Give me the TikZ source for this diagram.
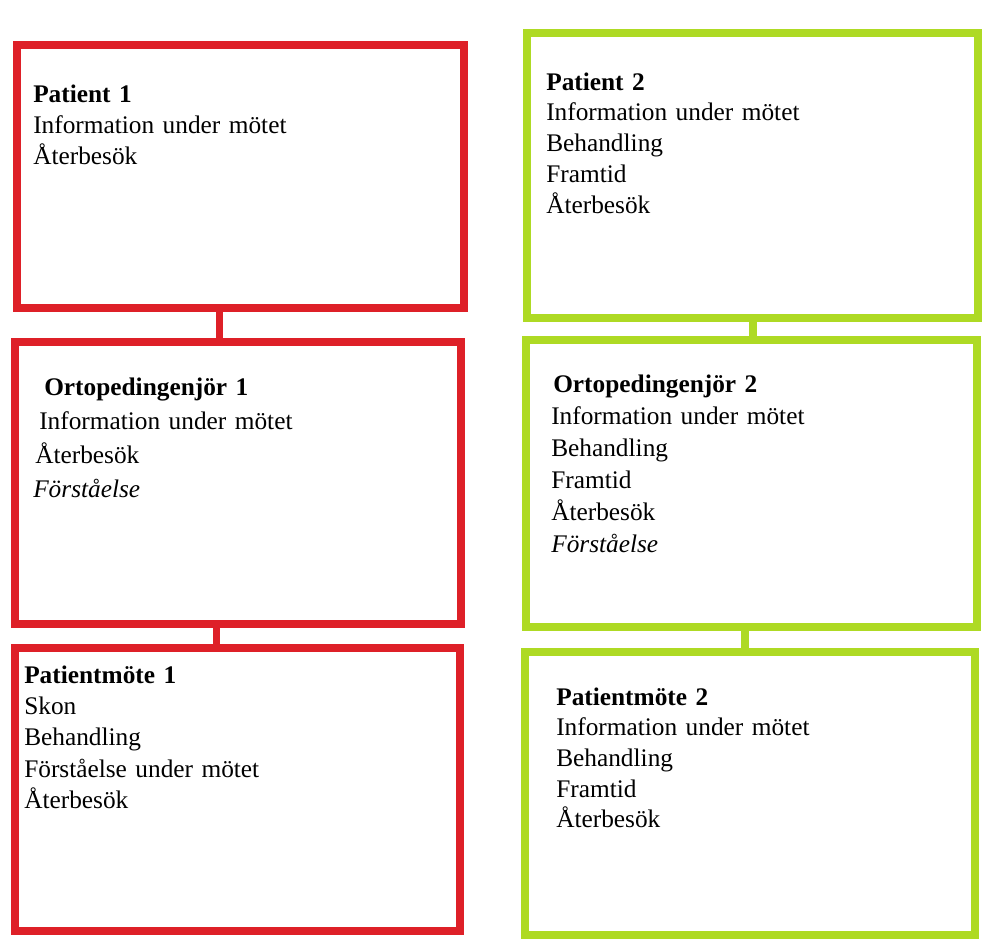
\documentclass[tikz,border=0pt]{standalone}
\usepackage{fontspec}
\setmainfont{Liberation Serif}
\usepackage{xcolor}
\usepackage{tikz}
\usetikzlibrary{positioning,calc}
\definecolor{pred}{HTML}{DE2028}
\definecolor{pgreen}{HTML}{AEDA24}
\tikzset{
  rbox/.style  ={draw=pred, line width=6pt, rectangle, inner sep=0pt},
  gbox/.style  ={draw=pgreen, line width=6pt, rectangle, inner sep=0pt},
  rlink/.style ={draw=pred, line width=5.5pt},
  glink/.style ={draw=pgreen, line width=6pt},
  txt/.style   ={anchor=base west, inner sep=0pt, text width=300pt, align=left,
                 font=\fontsize{19}{23.6}\selectfont},
}

\begin{document}
\begin{tikzpicture}[x=0.75pt, y=-0.75pt]
  \useasboundingbox[fill=white] (0,0) rectangle (982,940);
  % left column
  \node[rbox, minimum width=335.25pt, minimum height=197.25pt] (pat1) at (240.5,176.5) {};
  \node[rbox, minimum width=334.5pt, minimum height=211.5pt] (ort1) at (238,483) {};
  \node[rbox, minimum width=333.75pt, minimum height=212.25pt] (mote1) at (237.5,789.5) {};
  % right column
  \node[gbox, minimum width=338.25pt, minimum height=213.75pt] (pat2) at (752.5,175.5) {};
  \node[gbox, minimum width=338.25pt, minimum height=215.25pt] (ort2) at (751.5,483.5) {};
  \node[gbox, minimum width=337.5pt, minimum height=212.25pt] (mote2) at (750,793.5) {};

  \coordinate (c1) at ($(pat1.south west)!0.454!(pat1.south east)$);
  \coordinate (c2) at ($(ort1.south west)!0.453!(ort1.south east)$);
  \coordinate (c3) at ($(pat2.south west)!0.501!(pat2.south east)$);
  \coordinate (c4) at ($(ort2.south west)!0.486!(ort2.south east)$);
  \draw[rlink] (c1) -- (c1 |- ort1.north);
  \draw[rlink] (c2) -- (c2 |- mote1.north);
  \draw[glink] (c3) -- (c3 |- ort2.north);
  \draw[glink] (c4) -- (c4 |- mote2.north);

  \node[txt] (pat1txt) at ([shift={(20,61)}]pat1.north west)
    {\textbf{Patient 1}\\ Information under mötet\\ Återbesök};
  \node[txt, font=\fontsize{19}{25.5}\selectfont] (ort1txt) at ([shift={(22,57)}]ort1.north west)
    {\hspace*{8.25pt}\textbf{Ortopedingenjör 1}\\ \hspace*{4.5pt}Information under mötet\\
     \hspace*{1.5pt}Återbesök\\ \textit{Förståelse}};
  \node[txt] (mote1txt) at ([shift={(13,39)}]mote1.north west)
    {\textbf{Patientmöte 1}\\ Skon\\ Behandling\\ Förståelse under mötet\\ Återbesök};

  \node[txt, font=\fontsize{19}{23.1}\selectfont] (pat2txt) at ([shift={(23,61)}]pat2.north west)
    {\textbf{Patient 2}\\ Information under mötet\\ Behandling\\ Framtid\\ Återbesök};
  \node[txt, font=\fontsize{19}{24}\selectfont] (ort2txt) at ([shift={(29,56)}]ort2.north west)
    {\hspace*{1.5pt}\textbf{Ortopedingenjör 2}\\ Information under mötet\\ Behandling\\ Framtid\\
     Återbesök\\ \textit{Förståelse}};
  \node[txt, font=\fontsize{19}{23}\selectfont] (mote2txt) at ([shift={(35,57)}]mote2.north west)
    {\textbf{Patientmöte 2}\\ Information under mötet\\ Behandling\\ Framtid\\ Återbesök};
\end{tikzpicture}
\end{document}
